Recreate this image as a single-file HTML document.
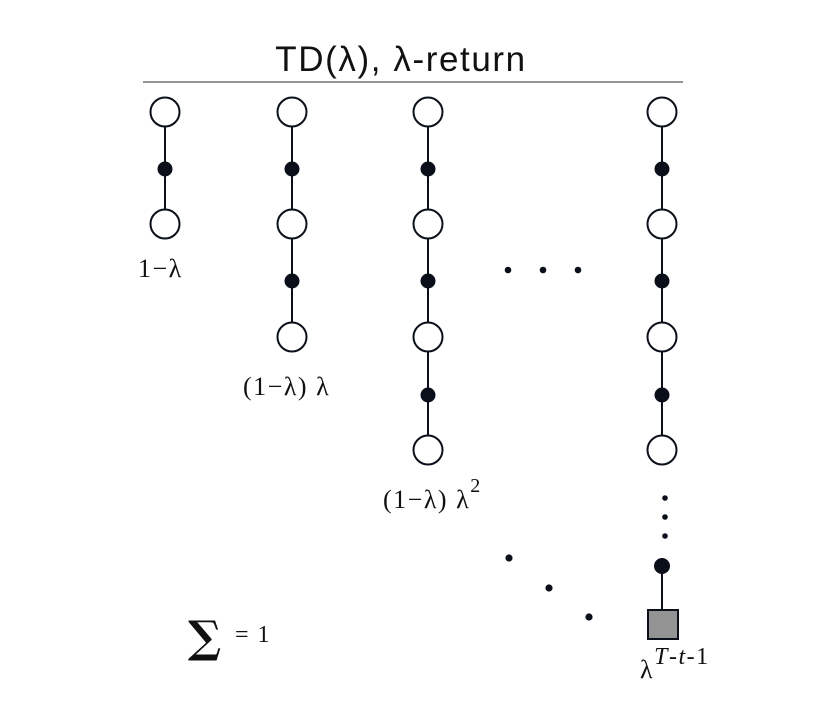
<!DOCTYPE html>
<html><head><style>body{margin:0;background:#fff}svg{display:block}</style></head><body>
<svg width="829" height="710" viewBox="0 0 829 710" xmlns="http://www.w3.org/2000/svg">
<text x="401" y="71" text-anchor="middle" font-family="Liberation Sans, sans-serif" font-size="35" letter-spacing="1.6" fill="#111">TD(λ), λ-return</text>
<line x1="143" y1="82" x2="683" y2="82" stroke="#555" stroke-width="1.3"/>
<g stroke="#0a0f1a" stroke-width="2">
<line x1="165" y1="112" x2="165" y2="224"/>
<line x1="292" y1="112" x2="292" y2="337"/>
<line x1="428" y1="112" x2="428" y2="450"/>
<line x1="662" y1="112" x2="662" y2="450"/>
<line x1="662" y1="566" x2="662" y2="624"/>
</g>
<g fill="#fff" stroke="#0a0f1a" stroke-width="2">
<circle cx="165" cy="112" r="14.5"/><circle cx="165" cy="224" r="14.5"/>
<circle cx="292" cy="112" r="14.5"/><circle cx="292" cy="224" r="14.5"/><circle cx="292" cy="337" r="14.5"/>
<circle cx="428" cy="112" r="14.5"/><circle cx="428" cy="224" r="14.5"/><circle cx="428" cy="337" r="14.5"/><circle cx="428" cy="450" r="14.5"/>
<circle cx="662" cy="112" r="14.5"/><circle cx="662" cy="224" r="14.5"/><circle cx="662" cy="337" r="14.5"/><circle cx="662" cy="450" r="14.5"/>
<rect x="648" y="610" width="30" height="29" fill="#939393"/>
</g>
<g fill="#0a0f1a">
<circle cx="165" cy="169" r="7.5"/>
<circle cx="292" cy="169" r="7.5"/><circle cx="292" cy="281" r="7.5"/>
<circle cx="428" cy="169" r="7.5"/><circle cx="428" cy="281" r="7.5"/><circle cx="428" cy="395" r="7.5"/>
<circle cx="662" cy="169" r="7.5"/><circle cx="662" cy="281" r="7.5"/><circle cx="662" cy="395" r="7.5"/>
<circle cx="662" cy="566" r="8"/>
<circle cx="665" cy="498" r="2.8"/><circle cx="665" cy="517" r="2.8"/><circle cx="665" cy="536" r="2.8"/>
<circle cx="508" cy="270" r="3.3"/><circle cx="543" cy="270" r="3.3"/><circle cx="578" cy="270" r="3.3"/>
<circle cx="509" cy="558" r="3.6"/><circle cx="549" cy="588" r="3.6"/><circle cx="589" cy="617" r="3.6"/>
</g>
<g font-family="Liberation Serif, serif" font-size="26" fill="#111" letter-spacing="1.5">
<text x="138" y="277">1−λ</text>
<text x="243" y="395">(1−λ) λ</text>
<text x="383" y="508">(1−λ) λ<tspan font-size="20" dy="-16">2</tspan></text>
<text x="188" y="652" font-size="44" font-weight="bold" font-family="DejaVu Serif, serif" letter-spacing="0">∑</text>
<text x="235" y="642" font-size="24">= 1</text>
<text x="640" y="678">λ<tspan font-style="italic" font-size="24" dy="-14">T</tspan><tspan font-size="24">-</tspan><tspan font-size="24" font-style="italic">t</tspan><tspan font-size="24">-1</tspan></text>
</g>
</svg>
</body></html>
